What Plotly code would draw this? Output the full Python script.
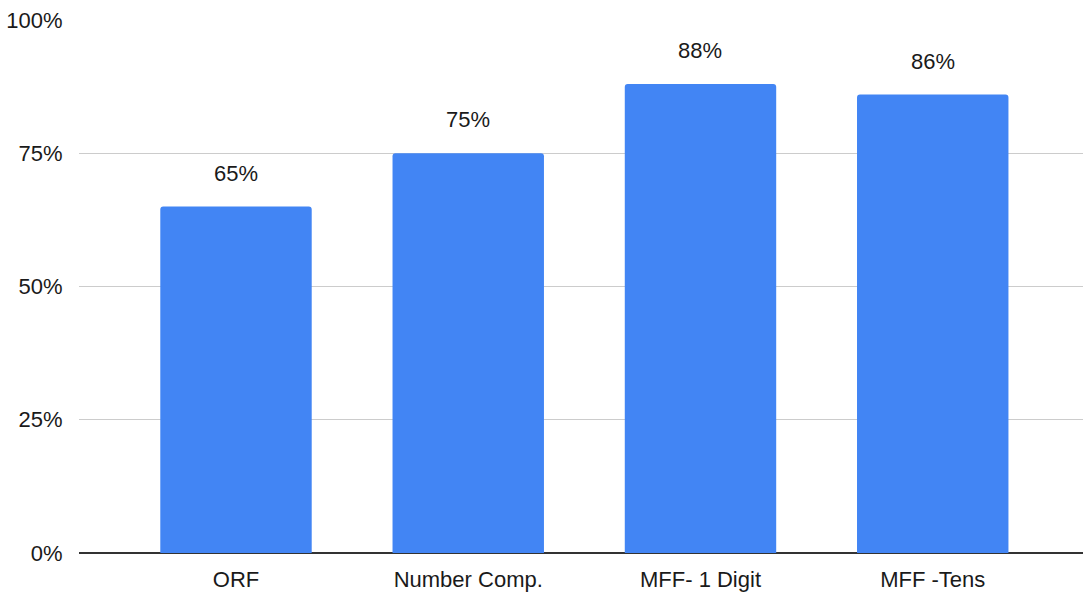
import plotly.graph_objects as go

categories = ["ORF", "Number Comp.", "MFF- 1 Digit", "MFF -Tens"]
values = [65, 75, 88, 86]
y_ticks = [0, 25, 50, 75, 100]
y_tick_labels = ["0%", "25%", "50%", "75%", "100%"]

FONT = "Liberation Sans, Arial, Helvetica, sans-serif"
BAR_COLOR = "#4285F4"
TEXT_COLOR = "#1a1a1a"

fig = go.Figure(
    go.Bar(
        x=categories,
        y=values,
        width=0.652,
        marker=dict(color=BAR_COLOR, line=dict(width=0)),
        hoverinfo="skip",
    )
)

# value labels above each bar
for cat, val in zip(categories, values):
    fig.add_annotation(
        x=cat, y=val, text=f"{val}%", showarrow=False,
        yanchor="bottom", yshift=19,
        font=dict(family=FONT, size=22, color=TEXT_COLOR),
    )

fig.update_layout(
    width=1083, height=592,
    margin=dict(l=79, r=0, t=20, b=36),
    paper_bgcolor="white", plot_bgcolor="white",
    barcornerradius=3,
    showlegend=False,
    font=dict(family=FONT, size=22, color=TEXT_COLOR),
)

fig.update_xaxes(
    type="category",
    range=[-0.676, 3.647],
    showgrid=False,
    showline=False,
    ticks="outside", ticklen=7, tickcolor="rgba(0,0,0,0)",
    tickfont=dict(family=FONT, size=22, color=TEXT_COLOR),
)

fig.update_yaxes(
    range=[0, 100],
    tickvals=y_ticks,
    ticktext=y_tick_labels,
    showgrid=True, gridcolor="#cccccc", gridwidth=1,
    zeroline=True, zerolinecolor="#333333", zerolinewidth=1.5,
    showline=False,
    ticks="outside", ticklen=11, tickcolor="rgba(0,0,0,0)",
    tickfont=dict(family=FONT, size=22, color=TEXT_COLOR),
)

fig.write_html("out.html")
